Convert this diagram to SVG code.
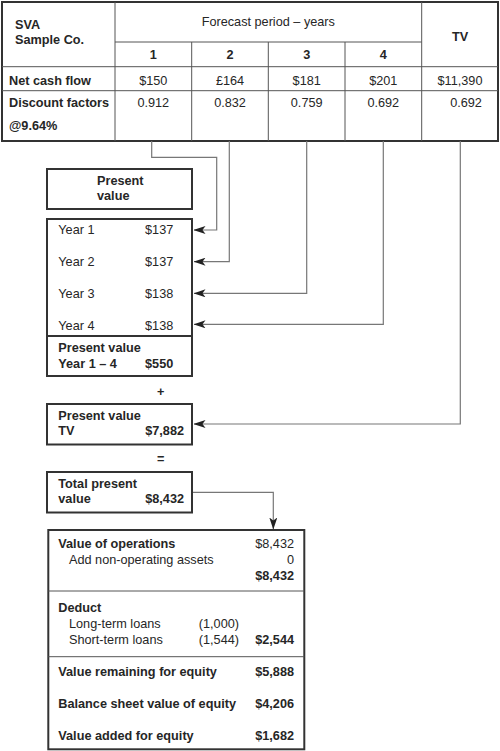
<svg xmlns="http://www.w3.org/2000/svg" width="500" height="751" viewBox="0 0 500 751">
<style>
text{font-family:"Liberation Sans",Arial,sans-serif;font-size:12.7px;fill:#262626}
.b{font-weight:bold}
.c{text-anchor:middle}
.r{text-anchor:end}
.box{fill:none;stroke:#333;stroke-width:2}
.in{fill:none;stroke:#555;stroke-width:1}
.con{fill:none;stroke:#777;stroke-width:1.2}
</style>
<defs>
<marker id="ah" viewBox="0 0 12 8" refX="11.5" refY="4" markerWidth="12" markerHeight="8" markerUnits="userSpaceOnUse" orient="auto">
<path d="M12,4 L0,0 L3,4 L0,8 z" fill="#222"/>
</marker>
</defs>
<rect width="500" height="751" fill="#fff"/>
<g id="table">
<rect class="box" x="2" y="2" width="496" height="139"/>
<line class="in" x1="115" y1="2" x2="115" y2="141"/>
<line class="in" x1="421.7" y1="2" x2="421.7" y2="141"/>
<line class="in" x1="115" y1="42" x2="421.7" y2="42"/>
<line class="in" x1="191.7" y1="42" x2="191.7" y2="141"/>
<line class="in" x1="268.3" y1="42" x2="268.3" y2="141"/>
<line class="in" x1="345" y1="42" x2="345" y2="141"/>
<line class="in" x1="2" y1="66.7" x2="498" y2="66.7"/>
<line class="in" x1="2" y1="90.7" x2="498" y2="90.7"/>
<text class="b" x="15" y="29">SVA</text>
<text class="b" x="15" y="44">Sample Co.</text>
<text class="c" x="268.3" y="26">Forecast period – years</text>
<text class="b c" x="460" y="41">TV</text>
<text class="b c" x="153.3" y="59">1</text>
<text class="b c" x="230" y="59">2</text>
<text class="b c" x="306.7" y="59">3</text>
<text class="b c" x="383.3" y="59">4</text>
<text class="b" x="9" y="85">Net cash flow</text>
<text class="c" x="153.3" y="85">$150</text>
<text class="c" x="230" y="85">£164</text>
<text class="c" x="306.7" y="85">$181</text>
<text class="c" x="383.3" y="85">$201</text>
<text class="c" x="460" y="85">$11,390</text>
<text class="b" x="9" y="107">Discount factors</text>
<text class="b" x="9" y="130">@9.64%</text>
<text class="c" x="153.3" y="107">0.912</text>
<text class="c" x="230" y="107">0.832</text>
<text class="c" x="306.7" y="107">0.759</text>
<text class="c" x="383.3" y="107">0.692</text>
<text class="c" x="466" y="107">0.692</text>
</g>
<g id="connectors">
<polyline class="con" points="151.7,141 151.7,157.3 216.7,157.3 216.7,230 194,230" marker-end="url(#ah)"/>
<polyline class="con" points="229.3,141 229.3,261.7 194,261.7" marker-end="url(#ah)"/>
<polyline class="con" points="306.7,141 306.7,293.3 194,293.3" marker-end="url(#ah)"/>
<polyline class="con" points="383.3,141 383.3,324.3 194,324.3" marker-end="url(#ah)"/>
<polyline class="con" points="460.3,141 460.3,424 194,424" marker-end="url(#ah)"/>
<polyline class="con" points="192,492.3 273.3,492.3 273.3,529" marker-end="url(#ah)"/>
</g>
<g id="pv-header">
<rect class="box" x="47" y="169" width="145" height="40"/>
<text class="b" x="97" y="185">Present</text>
<text class="b" x="97" y="200">value</text>
</g>
<g id="pv-years">
<rect class="box" x="47" y="219" width="145" height="157"/>
<line class="box" x1="47" y1="336" x2="192" y2="336"/>
<text x="58.3" y="234">Year 1</text>
<text class="r" x="173.3" y="234">$137</text>
<text x="58.3" y="266">Year 2</text>
<text class="r" x="173.3" y="266">$137</text>
<text x="58.3" y="297.5">Year 3</text>
<text class="r" x="173.3" y="297.5">$138</text>
<text x="58.3" y="329.5">Year 4</text>
<text class="r" x="173.3" y="329.5">$138</text>
<text class="b" x="58.3" y="352">Present value</text>
<text class="b" x="58.3" y="367.5">Year 1 – 4</text>
<text class="b r" x="173.3" y="367.5">$550</text>
</g>
<text class="b c" x="160.7" y="396">+</text>
<g id="pv-tv">
<rect class="box" x="47" y="404" width="145" height="40.5"/>
<text class="b" x="58.3" y="419.5">Present value</text>
<text class="b" x="58.3" y="435">TV</text>
<text class="b r" x="184" y="435">$7,882</text>
</g>
<text class="b c" x="160.7" y="463">=</text>
<g id="total-pv">
<rect class="box" x="47" y="472" width="145" height="40.5"/>
<text class="b" x="58.3" y="487.5">Total present</text>
<text class="b" x="58.3" y="503">value</text>
<text class="b r" x="184" y="503">$8,432</text>
</g>
<g id="equity">
<rect class="box" x="48.3" y="530" width="256" height="219.3"/>
<line class="in" x1="48.3" y1="591" x2="304.3" y2="591"/>
<line class="in" x1="48.3" y1="656.7" x2="304.3" y2="656.7"/>
<text class="b" x="58.3" y="548">Value of operations</text>
<text class="r" x="294" y="548">$8,432</text>
<text x="69" y="564">Add non-operating assets</text>
<text class="r" x="294" y="564">0</text>
<text class="b r" x="294" y="579.5">$8,432</text>
<text class="b" x="58.3" y="612">Deduct</text>
<text x="69" y="628">Long-term loans</text>
<text class="r" x="239" y="628">(1,000)</text>
<text x="69" y="643.5">Short-term loans</text>
<text class="r" x="239" y="643.5">(1,544)</text>
<text class="b r" x="294" y="643.5">$2,544</text>
<text class="b" x="58.3" y="676">Value remaining for equity</text>
<text class="b r" x="294" y="676">$5,888</text>
<text class="b" x="58.3" y="707.5">Balance sheet value of equity</text>
<text class="b r" x="294" y="707.5">$4,206</text>
<text class="b" x="58.3" y="739.5">Value added for equity</text>
<text class="b r" x="294" y="739.5">$1,682</text>
</g>
</svg>
